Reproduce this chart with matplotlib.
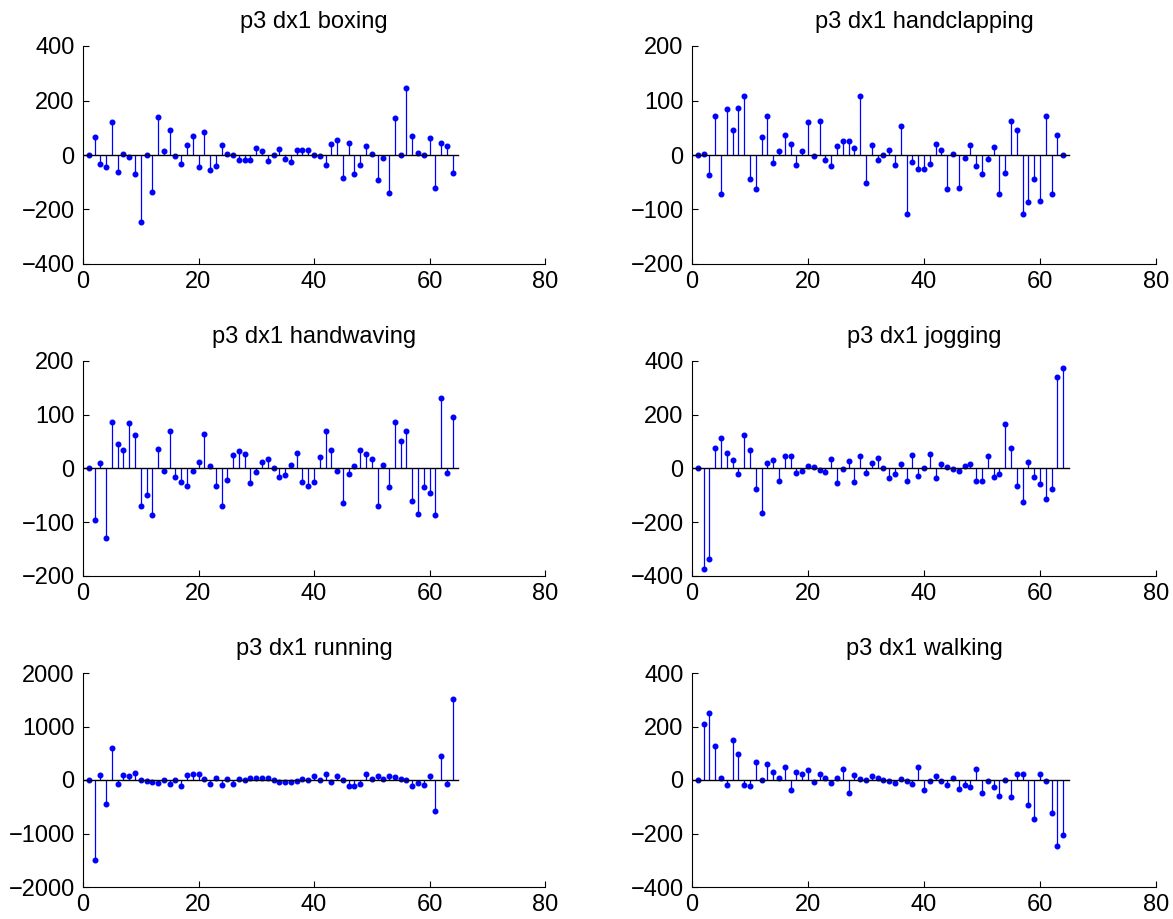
import numpy as np
import matplotlib
matplotlib.use("Agg")
import matplotlib.pyplot as plt

plt.rcParams['font.family'] = ['Liberation Sans', 'DejaVu Sans']

# --- dados (64 amostras por acao) ---
boxing = [0, 67, -33, -44, 120, -63, 2, -7, -71, -245,
          0, -135, 140, 13, 92, -2, -32, 37, 70, -44,
          85, -54, -40, 36, 2, 0, -17, -17, -17, 26,
          16, -23, 0, 23, -15, -25, 18, 18, 18, 0,
          -4, -36, 40, 54, -85, 44, -70, -37, 32, 4,
          -91, -12, -141, 135, 0, 245, 71, 9, 0, 63,
          -121, 44, 34, -67]
handclapping = [0, 1, -36, 72, -72, 85, 45, 87, 109, -44,
                -63, 33, 71, -14, 8, 36, 20, -19, 7, 61,
                -1, 63, -10, -20, 17, 26, 26, 12, 109, -52,
                18, -9, 0, 10, -18, 53, -109, -12, -25, -26,
                -17, 20, 10, -62, 1, -60, -6, 19, -20, -35,
                -7, 14, -71, -33, 63, 45, -108, -87, -44, -85,
                72, -72, 37, 0]
handwaving = [0, -95, 10, -130, 86, 45, 35, 85, 62, -70,
              -50, -86, 36, -5, 70, -16, -26, -32, -4, 12,
              65, 5, -33, -69, -21, 26, 33, 27, -27, -7,
              12, 17, 0, -16, -12, 7, 29, -26, -32, -25,
              22, 70, 34, -4, -65, -11, 4, 34, 27, 17,
              -70, 6, -35, 87, 52, 70, -61, -85, -35, -45,
              -86, 131, -9, 96]
jogging = [0, -375, -338, 77, 114, 58, 32, -21, 125, 67,
           -76, -166, 21, 32, -47, 48, 48, -16, -10, 11,
           4, -5, -14, 34, -53, -2, 27, -50, 48, -16,
           22, 38, 0, -37, -22, 17, -47, 51, -27, 2,
           55, -34, 15, 6, -2, -10, 11, 16, -48, -48,
           48, -32, -20, 166, 77, -66, -124, 24, -31, -57,
           -113, -76, 339, 375]
running = [0, -1501, 93, -442, 598, -69, 93, 69, 131, 6,
           -12, -44, -62, -6, -81, 0, -106, 87, 118, 112,
           19, -75, 44, -93, 19, -75, 25, 6, 37, 44,
           44, 44, 0, -37, -37, -37, -25, 12, -6, 81,
           -6, 106, -31, 81, -6, -106, -112, -81, 106, 19,
           81, 19, 69, 50, 25, 0, -118, -56, -87, 75,
           -586, 455, -81, 1514]
walking = [0, 208, 250, 126, 6, -19, 150, 96, -19, -21,
           66, 0, 61, 29, 7, 50, -37, 31, 22, 36,
           -6, 21, 7, -12, 9, 41, -47, 19, 5, 0,
           16, 6, 0, -2, -12, 2, -2, -15, 50, -37,
           -5, 15, -5, -19, 9, -32, -20, -27, 40, -47,
           -5, -26, -59, 1, -64, 24, 21, -92, -146, 21,
           -4, -123, -247, -206]

titles = ['p3 dx1 boxing', 'p3 dx1 handclapping', 'p3 dx1 handwaving',
          'p3 dx1 jogging', 'p3 dx1 running', 'p3 dx1 walking']
series = [boxing, handclapping, handwaving, jogging, running, walking]
ylims = [(-400, 400), (-200, 200), (-200, 200),
         (-400, 400), (-2000, 2000), (-400, 400)]
yticks = [[-400, -200, 0, 200, 400], [-200, -100, 0, 100, 200],
          [-200, -100, 0, 100, 200], [-400, -200, 0, 200, 400],
          [-2000, -1000, 0, 1000, 2000], [-400, -200, 0, 200, 400]]

fig = plt.figure(figsize=(11.73, 9.19), dpi=100)
W, H = 1173.0, 919.0

# posicoes dos eixos em pixels (esquerda, topo, direita, base)
lefts = [83, 692]
rights = [545, 1156]
tops = [46, 361, 673]
bottoms = [264, 576, 887]

for k in range(6):
    r, c = k // 2, k % 2
    ax = fig.add_axes([lefts[c] / W, 1 - bottoms[r] / H,
                       (rights[c] - lefts[c]) / W, (bottoms[r] - tops[r]) / H])
    y = np.array(series[k])
    x = np.arange(1, len(y) + 1)
    ax.vlines(x, 0, y, colors='#0000ff', linewidth=0.9)
    ax.plot(x, y, 'o', color='#0000ff', markersize=3.3)
    ax.plot([0, 65], [0, 0], color='black', linewidth=1.0)
    ax.set_xlim(0, 80)
    ax.set_ylim(*ylims[k])
    ax.set_xticks([0, 20, 40, 60, 80])
    ax.set_yticks(yticks[k])
    ax.spines['top'].set_visible(False)
    ax.spines['right'].set_visible(False)
    ax.tick_params(direction='in', labelsize=17, length=4)
    ax.tick_params(axis='x', pad=5)
    ax.tick_params(axis='y', pad=6)
    ax.set_title(titles[k], fontsize=17, pad=13)

fig.savefig('out.png', dpi=100)
